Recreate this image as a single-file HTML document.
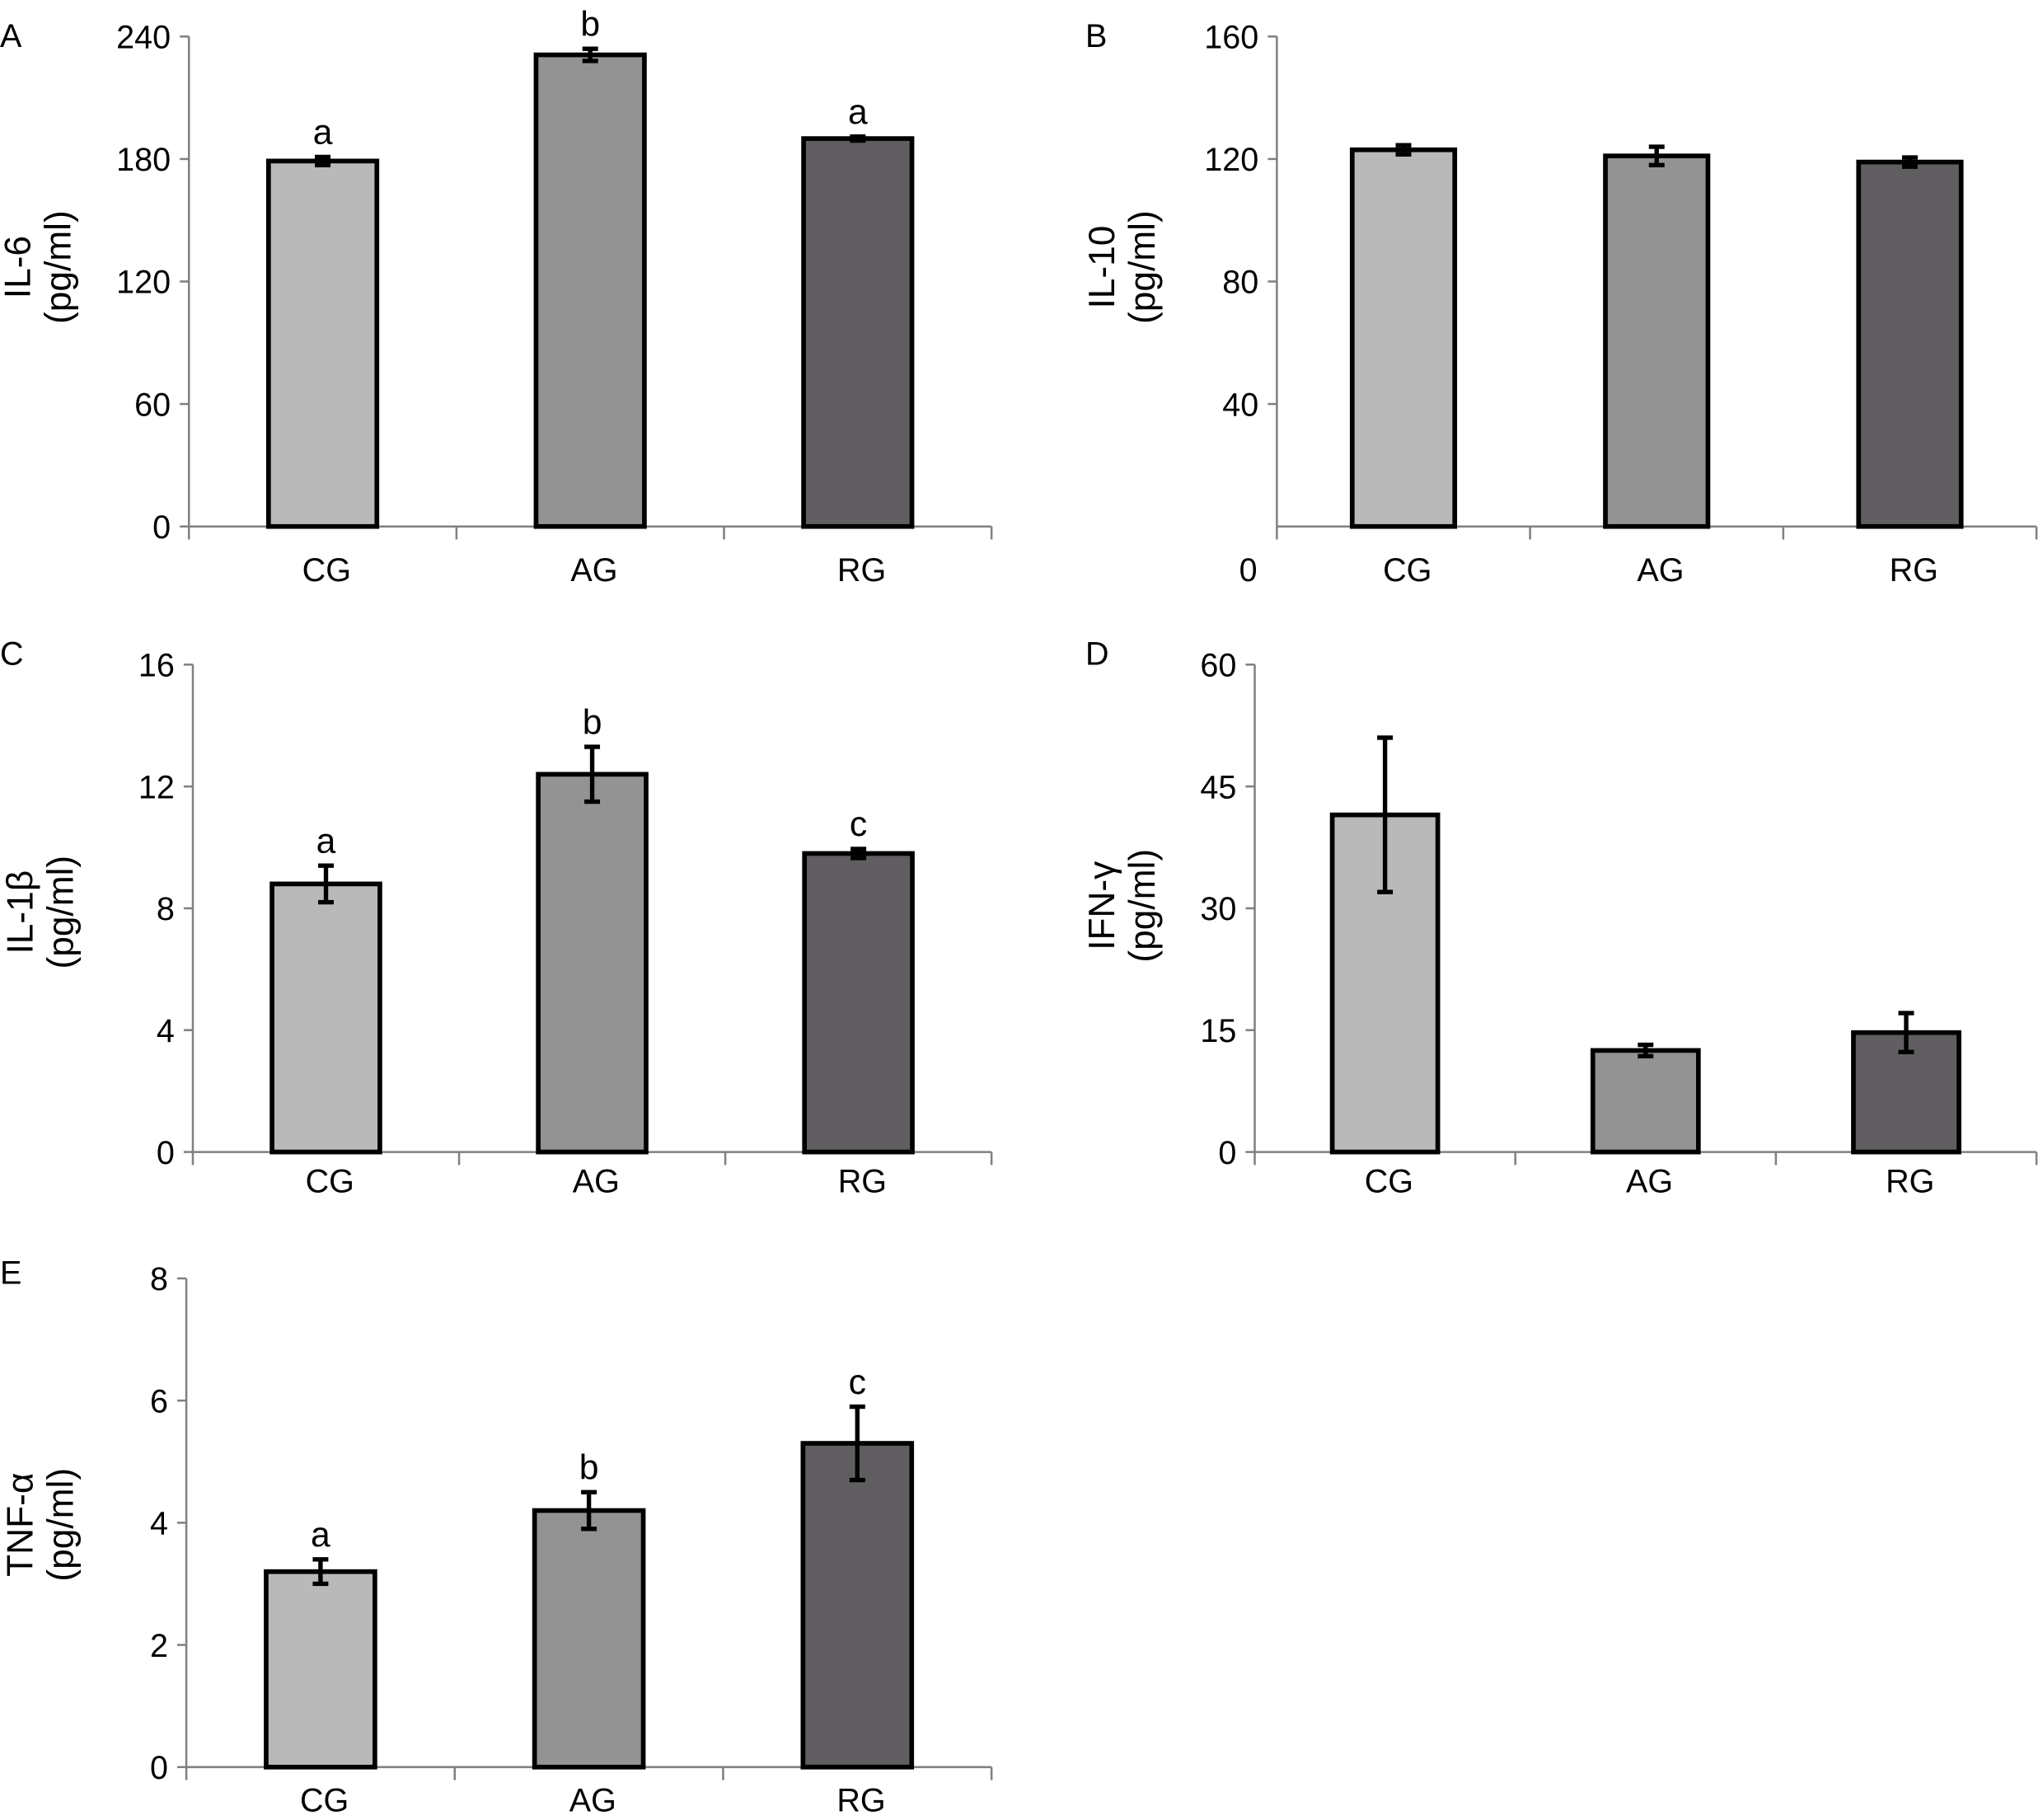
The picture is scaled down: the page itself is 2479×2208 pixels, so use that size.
<!DOCTYPE html>
<html><head><meta charset="utf-8"><style>
html,body{margin:0;padding:0;background:#fff;width:2479px;height:2208px;overflow:hidden}
svg{display:block}
text{font-family:"Liberation Sans",sans-serif;fill:#000}
</style></head><body>
<svg id="fig" width="2479" height="2208" viewBox="0 0 1568 1396.6" preserveAspectRatio="none" xmlns="http://www.w3.org/2000/svg"></svg>
<script>
const categories = ["CG", "AG", "RG"];
const fills = ["#b9b9b9", "#939393", "#605e60"];

const aValues = [179, 231, 190];
const aErrors = [2, 3, 1];
const aLetters = ["a", "b", "a"];
const aTicks = [0, 60, 120, 180, 240];

const bValues = [123, 121, 119];
const bErrors = [1.5, 3, 1.5];
const bLetters = ["", "", ""];
const bTicks = [40, 80, 120, 160];

const cValues = [8.8, 12.4, 9.8];
const cErrors = [0.6, 0.9, 0.15];
const cLetters = ["a", "b", "c"];
const cTicks = [0, 4, 8, 12, 16];

const dValues = [41.5, 12.5, 14.7];
const dErrors = [9.5, 0.7, 2.4];
const dLetters = ["", "", ""];
const dTicks = [0, 15, 30, 45, 60];

const eValues = [3.2, 4.2, 5.3];
const eErrors = [0.2, 0.3, 0.6];
const eLetters = ["a", "b", "c"];
const eTicks = [0, 2, 4, 6, 8];

const NS = "http://www.w3.org/2000/svg";
const svg = document.getElementById("fig");
function mk(tag, attrs, parent) {
  const el = document.createElementNS(NS, tag);
  for (const k in attrs) el.setAttribute(k, attrs[k]);
  (parent || svg).appendChild(el);
  return el;
}
function txt(s, x, y, size, anchor, parent, name) {
  const t = mk("text", {x: x, y: y, "font-size": size, "text-anchor": anchor}, parent);
  t.textContent = s;
  
  
  return t;
}

function panel(cfg) {
  const g = mk("g", {});
  
  
  const ax = cfg.ax, top = cfg.top, bot = cfg.bot, right = cfg.right;
  const vmax = cfg.ticks[cfg.ticks.length - 1];
  const ys = v => bot - (v / vmax) * (bot - top);
  const cw = (right - ax) / categories.length;
  const xc = i => ax + cw * (i + 0.5);
  const bw = cw * 0.405;

  txt(cfg.id, cfg.lx, cfg.ly, 25, "start", g, 'panel-label');
  const yl = mk("line", {x1: ax, y1: top, x2: ax, y2: bot, stroke: "#808080", "stroke-width": 1.6}, g);
  
  
  cfg.ticks.forEach(t => {
    const y = ys(t);
    const tk = mk("line", {x1: ax - 7, y1: y, x2: ax, y2: y, stroke: "#808080", "stroke-width": 1.6}, g);
    
    
    txt(String(t), ax - 14, y + 9, 25, "end", g, 'y-tick-label');
  });
  const xl = mk("line", {x1: ax, y1: bot, x2: right, y2: bot, stroke: "#808080", "stroke-width": 1.6}, g);
  
  
  for (let i = 0; i <= categories.length; i++) {
    const x = ax + cw * i;
    const tk = mk("line", {x1: x, y1: bot, x2: x, y2: bot + 10, stroke: "#808080", "stroke-width": 1.6}, g);
    
    
  }
  const yt = mk("g", {transform: "translate(" + cfg.tx + "," + cfg.ty + ") rotate(-90)"}, g);
  
  
  txt(cfg.title, 0, 0, 28, "middle", yt, 'y-axis-title-name');
  txt("(pg/ml)", 0, 31, 28, "middle", yt, 'y-axis-title-unit');

  categories.forEach((c, i) => {
    const v = cfg.values[i], e = cfg.errors[i];
    const x = xc(i);
    const r = mk("rect", {x: x - bw / 2, y: ys(v), width: bw, height: bot - ys(v), fill: fills[i], stroke: "#000", "stroke-width": 3.6}, g);
    
    
    const eg = mk("g", {stroke: "#000", "stroke-width": 3.4}, g);
    
    
    mk("line", {x1: x, y1: ys(v + e), x2: x, y2: ys(v - e)}, eg);
    mk("line", {x1: x - 6, y1: ys(v + e), x2: x + 6, y2: ys(v + e)}, eg);
    mk("line", {x1: x - 6, y1: ys(v - e), x2: x + 6, y2: ys(v - e)}, eg);
    if (cfg.letters[i]) txt(cfg.letters[i], x, ys(v + e) - 10, 27, "middle", g, 'significance-letter');
    txt(c, x + 3, cfg.cy, 25, "middle", g, 'x-label-' + c.toLowerCase());
  });
}

panel({id: "A", lx: 0, ly: 36, ax: 145, top: 28, bot: 404, right: 761, ticks: aTicks, values: aValues, errors: aErrors, letters: aLetters, title: "IL-6", tx: 23, ty: 205, cy: 446});
panel({id: "B", lx: 833, ly: 36, ax: 980, top: 28, bot: 404, right: 1563, ticks: bTicks, values: bValues, errors: bErrors, letters: bLetters, title: "IL-10", tx: 855, ty: 205, cy: 446});
txt("0", 958, 446, 25, "middle", null, 'y-tick-label-zero');
panel({id: "C", lx: 0, ly: 510, ax: 148, top: 510, bot: 884, right: 761, ticks: cTicks, values: cValues, errors: cErrors, letters: cLetters, title: "IL-1\u03b2", tx: 25, ty: 700, cy: 915});
panel({id: "D", lx: 833, ly: 510, ax: 963, top: 510, bot: 884, right: 1563, ticks: dTicks, values: dValues, errors: dErrors, letters: dLetters, title: "IFN-\u03b3", tx: 855, ty: 695, cy: 915});
panel({id: "E", lx: 0, ly: 985, ax: 143, top: 981, bot: 1356, right: 761, ticks: eTicks, values: eValues, errors: eErrors, letters: eLetters, title: "TNF-\u03b1", tx: 25, ty: 1170, cy: 1390});
</script>
</body></html>
